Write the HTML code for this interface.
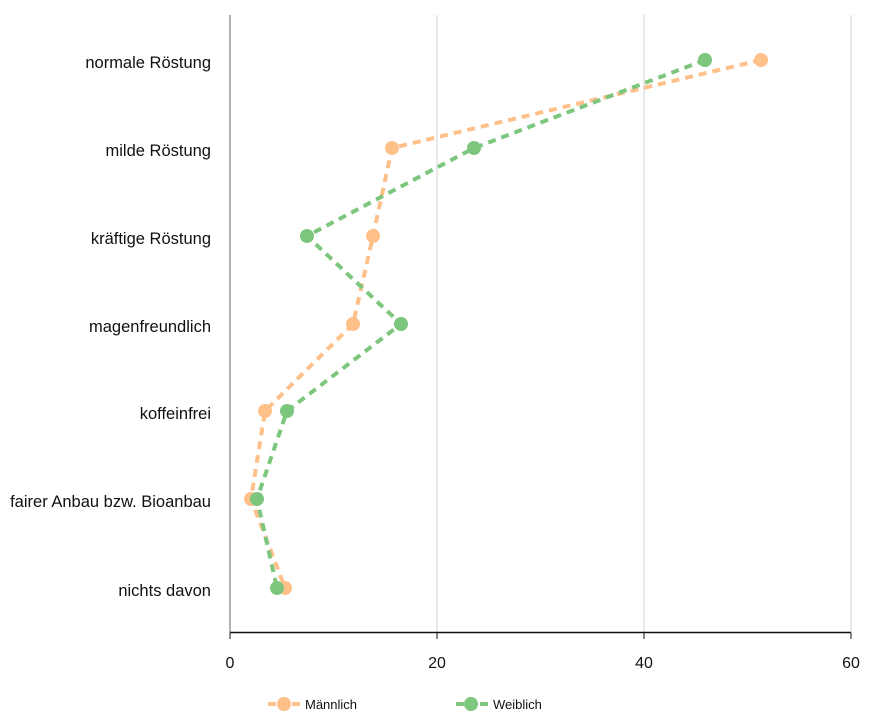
<!DOCTYPE html>
<html><head><meta charset="utf-8"><style>body{margin:0;background:#fff}svg{display:block}text{font-family:"Liberation Sans",Arial,sans-serif}</style></head>
<body>
<svg width="878" height="724" viewBox="0 0 878 724">
<g stroke="#d0d0d0" stroke-width="1">
<line x1="437" y1="15" x2="437" y2="633"/>
<line x1="644" y1="15" x2="644" y2="633"/>
<line x1="851" y1="15" x2="851" y2="633"/>
</g>
<line x1="230" y1="15" x2="230" y2="633" stroke="#666" stroke-width="1"/>
<line x1="230" y1="632.5" x2="851" y2="632.5" stroke="#111" stroke-width="1.5"/>
<g stroke="#111"><line x1="230" y1="633" x2="230" y2="639"/><line x1="437" y1="633" x2="437" y2="639"/><line x1="644" y1="633" x2="644" y2="639"/><line x1="851" y1="633" x2="851" y2="639"/></g>
<g font-size="16" fill="#111" text-anchor="middle">
<text x="230" y="668">0</text><text x="437" y="668">20</text><text x="644" y="668">40</text><text x="851" y="668">60</text>
</g>
<g font-size="16.5" fill="#111" text-anchor="end">
<text x="211" y="68">normale Röstung</text>
<text x="211" y="156">milde Röstung</text>
<text x="211" y="244">kräftige Röstung</text>
<text x="211" y="332">magenfreundlich</text>
<text x="211" y="419">koffeinfrei</text>
<text x="211" y="507">fairer Anbau bzw. Bioanbau</text>
<text x="211" y="596">nichts davon</text>
</g>
<polyline fill="none" stroke="#FFC08A" stroke-width="4" stroke-dasharray="8,6" points="761,60 392,148 373,236 353,324 265,411 251,499 285,588"/>
<polyline fill="none" stroke="#7DC67E" stroke-width="4" stroke-dasharray="8,6" points="705,60 474,148 307,236 401,324 287,411 257,499 277,588"/>
<g fill="#FFC08A">
<circle cx="761" cy="60" r="7"/><circle cx="392" cy="148" r="7"/><circle cx="373" cy="236" r="7"/><circle cx="353" cy="324" r="7"/><circle cx="265" cy="411" r="7"/><circle cx="251" cy="499" r="7"/><circle cx="285" cy="588" r="7"/>
</g>
<g fill="#7DC67E">
<circle cx="705" cy="60" r="7"/><circle cx="474" cy="148" r="7"/><circle cx="307" cy="236" r="7"/><circle cx="401" cy="324" r="7"/><circle cx="287" cy="411" r="7"/><circle cx="257" cy="499" r="7"/><circle cx="277" cy="588" r="7"/>
</g>
<line x1="268" y1="704" x2="300" y2="704" stroke="#FFC08A" stroke-width="4" stroke-dasharray="8,4"/>
<circle cx="284" cy="704" r="7" fill="#FFC08A"/>
<text x="305" y="709" font-size="13" fill="#111">Männlich</text>
<line x1="456" y1="704" x2="488" y2="704" stroke="#7DC67E" stroke-width="4" stroke-dasharray="8,4"/>
<circle cx="471" cy="704" r="7" fill="#7DC67E"/>
<text x="493" y="709" font-size="13" fill="#111">Weiblich</text>
</svg>
</body></html>
